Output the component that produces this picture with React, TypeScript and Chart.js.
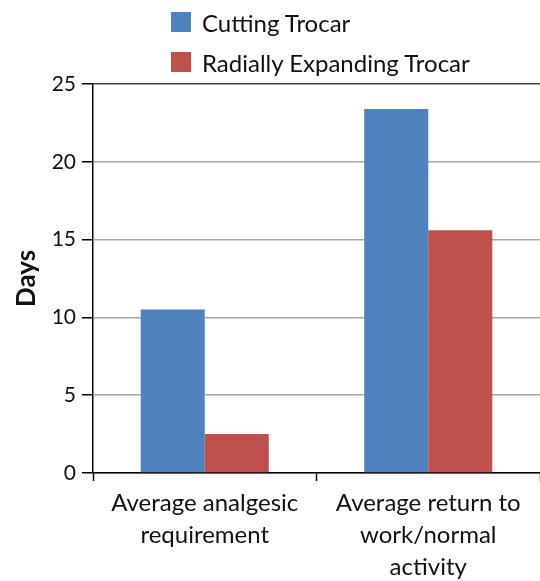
import React, { useEffect, useRef } from "react";
import { Chart, registerables } from "chart.js";

Chart.register(...registerables);

const categories: string[][] = [
  ["Average analgesic", "requirement"],
  ["Average return to", "work/normal", "activity"],
];
const seriesNames = ["Cutting Trocar", "Radially Expanding Trocar"];
const cuttingTrocar = [10.5, 23.4];
const radiallyExpandingTrocar = [2.5, 15.6];
const seriesColors = ["#4F81BD", "#C0504D"];
const yTicks = [0, 5, 10, 15, 20, 25];
const yTitle = "Days";

const FONT = "Lato, 'Open Sans', sans-serif";

export default function App() {
  const canvasRef = useRef<HTMLCanvasElement | null>(null);

  useEffect(() => {
    const canvas = canvasRef.current;
    if (!canvas) return;
    const chart = new Chart(canvas, {
      type: "bar",
      data: {
        labels: categories,
        datasets: [
          {
            label: seriesNames[0],
            data: cuttingTrocar,
            backgroundColor: seriesColors[0],
            borderWidth: 0,
            categoryPercentage: 0.573,
            barPercentage: 1,
          },
          {
            label: seriesNames[1],
            data: radiallyExpandingTrocar,
            backgroundColor: seriesColors[1],
            borderWidth: 0,
            categoryPercentage: 0.573,
            barPercentage: 1,
          },
        ],
      },
      options: {
        responsive: false,
        animation: false,
        layout: { padding: { top: 84, left: 0, right: 0, bottom: 0 } },
        plugins: {
          legend: { display: false },
          tooltip: { enabled: false },
        },
        scales: {
          x: {
            offset: true,
            grid: {
              display: true,
              drawOnChartArea: false,
              drawTicks: true,
              tickLength: 8,
              tickColor: "#000",
              tickWidth: 1.5,
              offset: true,
            },
            border: { display: true, color: "#000", width: 1.5 },
            ticks: {
              color: "#111",
              padding: 6,
              maxRotation: 0,
              minRotation: 0,
              autoSkip: false,
              font: { family: FONT, size: 24, lineHeight: 1.33 },
            },
            afterFit: (scale: any) => {
              scale.height = 108;
            },
          },
          y: {
            min: 0,
            max: 25,
            afterBuildTicks: (scale: any) => {
              scale.ticks = yTicks.map((v) => ({ value: v }));
            },
            grid: {
              color: (ctx: any) => (ctx.tick && ctx.tick.value === 25 ? "#444" : "#a6a6a6"),
              lineWidth: 1.5,
              tickLength: 11,
              tickColor: "#000",
              tickWidth: 1.5,
            },
            border: { display: true, color: "#000", width: 1.5 },
            ticks: {
              color: "#111",
              padding: 6,
              font: { family: FONT, size: 21 },
            },
            title: {
              display: true,
              text: yTitle,
              color: "#111",
              padding: { top: 11, bottom: 0 },
              font: { family: FONT, size: 26, weight: "bold" },
            },
            afterFit: (scale: any) => {
              scale.width = 93;
            },
          },
        },
      },
    });
    return () => chart.destroy();
  }, []);

  return (
    <div
      style={{
        position: "absolute",
        left: 0,
        top: 0,
        width: 540,
        height: 581,
        background: "#fff",
        fontFamily: FONT,
      }}
    >
      <canvas ref={canvasRef} width={540} height={581} style={{ display: "block" }} />
      {seriesNames.map((name, i) => (
        <div
          key={name}
          style={{
            position: "absolute",
            left: 171,
            top: 8 + i * 40,
            height: 28,
            display: "flex",
            alignItems: "center",
            fontSize: 24,
            color: "#111",
            whiteSpace: "nowrap",
          }}
        >
          <span
            style={{
              display: "inline-block",
              width: 20,
              height: 20,
              background: seriesColors[i],
              marginRight: 11,
            }}
          />
          {name}
        </div>
      ))}
    </div>
  );
}
